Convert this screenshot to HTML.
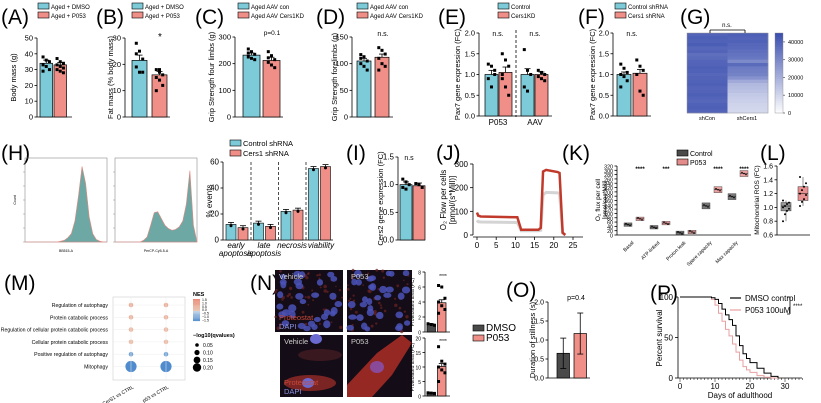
<!DOCTYPE html>
<html><head><meta charset="utf-8">
<style>
html,body{margin:0;padding:0;background:#fff;}
svg{display:block;font-family:"Liberation Sans",sans-serif;}
</style></head>
<body>
<svg id="fig" width="821" height="403" viewBox="0 0 821 403" xmlns="http://www.w3.org/2000/svg"></svg>
<script>
// ---------------- DATA ----------------
const catsA=["Aged + DMSO","Aged + P053"]; const valsA=[34,33]; const errA=[2,1.5];
const ptsA=[[38,36,35,33,32,30,29],[37,35,34,33,32,31,30,29,28]];
const ticksA=[0,10,20,30,40,50];
const valsB=[21.5,16]; const errB=[2,1.3];
const ptsB=[[28,25,22,19,17,17,24],[18,17,16,15,14,12,10,18]];
const ticksB=[0,10,20,30];
const catsC=["Aged AAV con","Aged AAV Cers1KD"]; const valsC=[232,212]; const errC=[8,12];
const ptsC=[[255,245,235,225,220,215,240],[245,230,215,205,195,185,222]];
const ticksC=[0,100,200,300];
const valsD=[105,112]; const errD=[5,6];
const ptsD=[[117,113,105,100,95,88,110],[130,125,118,110,100,95,88]];
const ticksD=[0,50,100,150];
const valsE=[1.0,1.05,1.0,1.0]; const errE=[0.1,0.13,0.14,0.06];
const ptsE=[[1.25,1.2,1.0,0.9,0.7,1.1],[1.5,1.35,1.2,1.0,0.7,0.5,0.9],[1.6,1.1,1.0,0.7,0.6],[1.1,1.05,1.0,0.95,0.9,0.85]];
const ticksE=[0,0.5,1.0,1.5,2.0];
const valsF=[1.0,1.03]; const errF=[0.06,0.09];
const ptsF=[[1.25,1.15,1.05,1.0,0.95,0.85,0.7],[1.35,1.2,1.1,1.0,0.6,0.5]];
const conHeat=[40000,41000,40500,41500,39000,40000,37000,38000,39500,40000,41000,40500,39000,40000,40500,41000,39500,40000,41000,40000,39000,40500,41000,40000];
const cersHeat=[41000,40000,40500,39000,38500,37000,36000,35000,30000,38000,34000,33000,32000,28000,22000,18000,17000,16000,14000,13000,12000,11000,10500,10000];
const heatTicks=[0,10000,20000,30000,40000];
const hist1=[0,0,0,0,0,0,0,0,0,0,0.01,0.02,0.05,0.1,0.25,0.55,0.9,0.7,0.3,0.1,0.03,0.01,0,0];
const hist2=[0,0,0,0,0,0,0,0,0.02,0.06,0.2,0.35,0.36,0.28,0.2,0.16,0.14,0.15,0.18,0.25,0.45,0.85,0.2,0];
const catsH=["early apoptosis","late apoptosis","necrosis","viability"];
const ctrlH=[12,13,22,55]; const cersH=[9.5,10.5,23,56.5];
const ticksH=[0,20,40,60];
const valsI=[1.0,0.98]; const errI=[0.05,0.05];
const ptsI=[[1.1,1.05,1.0,0.95,0.92],[1.02,1.0,0.95]];
const ticksI=[0,0.5,1.0,1.5];
const tJ=[0,0.3,1,10.5,11.5,16,16.6,17.2,18,21,21.5,22.3,23];
const redJ=[95,82,78,75,22,22,30,268,275,266,262,10,0];
const grayJ=[62,56,55,53,18,18,20,170,180,178,176,8,0];
const ticksJx=[0,5,10,15,20,25]; const ticksJy=[0,100,200,300];
const catsK=["Basal","ATP-linked","Proton leak","Spare capacity","Max capacity"];
const ctrlK=[48,36,10,135,178]; const p053K=[75,55,14,210,285];
const sigK=["****","***","","****","****"];
const ticksK=[0,20,40,60,80,100,120,140,160,180,200,220,240,260,280,300,320];
const boxL=[[0.8,0.95,1.02,1.07,1.1],[1.02,1.1,1.2,1.3,1.44]];
const ptsL=[[0.8,0.9,0.95,0.98,1.0,1.02,1.05,1.07,1.1],[1.02,1.08,1.12,1.18,1.2,1.25,1.3,1.35,1.44]];
const ticksL=[0.6,0.8,1.0,1.2,1.4,1.6];
const termsM=["Regulation of autophagy","Protein catabolic process","Regulation of cellular protein catabolic process","Cellular protein catabolic process","Positive regulation of autophagy","Mitophagy"];
const colsM=["shCerS1 vs CTRL","p53 vs CTRL"];
const nes1=[0.6,0.5,0.4,0.3,-1.0,-1.5]; const nes2=[0.6,0.5,0.4,0.3,-1.0,-1.5];
const q1=[0.05,0.05,0.05,0.05,0.05,0.2]; const q2=[0.05,0.05,0.05,0.05,0.05,0.2];
const valsN1=[1.0,3.9]; const errN1=[0.1,0.4]; const ptsN1=[[1.1,1.0,0.9],[6.2,6.0,4.5,4.0,3.5,3.0,2.5]];
const valsN2=[1.0,10.2]; const errN2=[0.15,1.0]; const ptsN2=[[1.1,1.0,0.9],[17,12,11,10,9,8,5]];
const valsO=[0.65,1.17]; const errO=[0.4,0.54];
const ticksO=[0,0.5,1.0,1.5,2.0];
const daysP=[0,8,9,10,11,12,13,14,15,16,17,18,19,20,22,24,26,28];
const dmsoP=[100,100,99,97,92,85,78,72,65,52,40,30,24,19,12,6,2,0];
const p053P=[100,100,97,90,80,70,60,52,42,32,22,14,10,7,3,1,0,0];
const ticksPx=[0,10,20,30]; const ticksPy=[0,50,100];

// ---------------- HELPERS ----------------
const NS="http://www.w3.org/2000/svg";
const svg=document.getElementById('fig');
const BLUE="#7dcad9", PINK="#ef8f88", DARK="#4a4a4a";
function mk(tag,attrs,name){
  const e=document.createElementNS(NS,tag);
  for(const k in attrs)e.setAttribute(k,attrs[k]);
  
  
  svg.appendChild(e);return e;
}
function txt(x,y,s,size,anchor,name,rot,extra){
  const a={x:x,y:y,'font-size':size,'text-anchor':anchor||'start',fill:'#000'};
  if(rot)a.transform=`rotate(${rot} ${x} ${y})`;
  if(extra)for(const k in extra)a[k]=extra[k];
  const e=mk('text',a,name);e.textContent=s;return e;
}
function line(x1,y1,x2,y2,name,st,w,dash){
  const a={x1,y1,x2,y2,stroke:st||'#000','stroke-width':w||0.8};
  if(dash)a['stroke-dasharray']=dash;
  return mk('line',a,name);
}
function label(x,y,s){txt(x,y,s,21,'start','panel-label-'+s.replace(/[()]/g,'').toLowerCase(),0,{'font-weight':'300'});}
function legendBox(x,y,color,s,fs){
  mk('rect',{x:x,y:y,width:11,height:6,fill:color,stroke:'#000','stroke-width':0.6},'legend-swatch');
  txt(x+13,y+6,s,fs||6,'start','legend-label');
}
function yAxis(ax,y0,y1,min,max,ticks,fs,fmt){
  const ys=v=>y0-(v-min)/(max-min)*(y0-y1);
  line(ax,y1,ax,y0,'y-axis');
  ticks.forEach(t=>{line(ax-2.5,ys(t),ax,ys(t),'y-tick');txt(ax-4,ys(t)+2.5,fmt?fmt(t):String(t),fs||7.5,'end','y-tick-label');});
  return ys;
}
function bars(o){
  const ys=yAxis(o.ax,o.y0,o.y1,0,o.max,o.ticks,o.fs,o.fmt);
  line(o.ax,o.y0,o.xEnd,o.y0,'x-axis');
  o.vals.forEach((v,i)=>{
    const x=o.bx+i*o.bw+(o.gap&&i>=2?o.gap:0);
    mk('rect',{x:x,y:ys(v),width:o.w,height:o.y0-ys(v),fill:o.colors[i%o.colors.length],stroke:'#000','stroke-width':0.7},'bar-'+i);
    if(o.err){const c=x+o.w/2;line(c,ys(v+o.err[i]),c,ys(Math.max(0,v-(o.errBoth?o.err[i]:0))),'error-bar',null,0.8);line(c-3,ys(v+o.err[i]),c+3,ys(v+o.err[i]),'error-cap');
      if(o.errBoth)line(c-3,ys(v-o.err[i]),c+3,ys(v-o.err[i]),'error-cap');}
    if(o.pts&&o.pts[i])o.pts[i].forEach((p,j)=>{
      mk('rect',{x:x+o.w/2-1.5+((j%3)-1)*3.2,y:ys(p)-1.5,width:3,height:3,fill:'#000'},'data-point');
    });
  });
  if(o.title)txt(o.tx,(o.y0+o.y1)/2,o.title,o.tfs||7.5,'middle','y-axis-title',-90);
  return ys;
}

// ---------------- PANEL A ----------------
label(1,24,"(A)");
legendBox(38,3,BLUE,catsA[0]);legendBox(38,12,PINK,catsA[1]);
bars({ax:37,y0:117,y1:38,max:50,ticks:ticksA,xEnd:72,vals:valsA,err:errA,pts:ptsA,bx:40,bw:14,w:12.5,colors:[BLUE,PINK],title:"Body mass (g)",tx:16});
// ---------------- PANEL B ----------------
label(96,24,"(B)");
legendBox(132,3,BLUE,catsA[0]);legendBox(132,12,PINK,catsA[1]);
bars({ax:125,y0:117,y1:38,max:30,ticks:ticksB,xEnd:170,vals:valsB,err:errB,pts:ptsB,bx:132,bw:20,w:15,colors:[BLUE,PINK],title:"Fat mass (% body mass)",tx:113});
txt(160,40,"*",10,'middle','significance-star');
// ---------------- PANEL C ----------------
label(195,24,"(C)");
legendBox(238,3,BLUE,catsC[0]);legendBox(238,12,PINK,catsC[1]);
bars({ax:235,y0:117,y1:37,max:300,ticks:ticksC,xEnd:283,vals:valsC,err:errC,pts:ptsC,bx:243,bw:20,w:17,colors:[BLUE,PINK],title:"Grip Strength four limbs (g)",tx:214});
txt(272,35,"p=0.1",6.5,'middle','p-value');
// ---------------- PANEL D ----------------
label(316,24,"(D)");
legendBox(357,3,BLUE,catsC[0]);legendBox(357,12,PINK,catsC[1]);
bars({ax:352,y0:117,y1:37,max:150,ticks:ticksD,xEnd:393,vals:valsD,err:errD,pts:ptsD,bx:357,bw:18,w:14,colors:[BLUE,PINK],title:"Grip Strength forelimbs (g)",tx:337});
txt(383,36,"n.s.",7,'middle','ns-label');
// ---------------- PANEL E ----------------
label(438,24,"(E)");
legendBox(498,3,BLUE,"Control");legendBox(498,12,PINK,"Cers1KD");
bars({ax:479,y0:116,y1:33,max:2,ticks:ticksE,fmt:t=>t.toFixed(1),xEnd:552,vals:valsE,err:errE,pts:ptsE,bx:485,bw:14,gap:8,w:13,colors:[BLUE,PINK],title:"Pax7 gene expression (FC)",tx:460});
line(516,30,516,117,'group-divider','#000',0.8,'3,2');
txt(498,36,"n.s.",7,'middle','ns-label');txt(535,36,"n.s.",7,'middle','ns-label');
txt(498,125,"P053",8,'middle','x-label');txt(535,125,"AAV",8,'middle','x-label');
// ---------------- PANEL F ----------------
label(578,24,"(F)");
legendBox(615,3,BLUE,"Control shRNA");legendBox(615,12,PINK,"Cers1 shRNA");
bars({ax:613,y0:116,y1:33,max:2,ticks:ticksE,fmt:t=>t.toFixed(1),xEnd:651,vals:valsF,err:errF,pts:ptsF,bx:617,bw:16,w:14,colors:[BLUE,PINK],title:"Pax7 gene expression (FC)",tx:595});
txt(632,36,"n.s.",7,'middle','ns-label');
// ---------------- PANEL G ----------------
label(680,24,"(G)");
(function(){
  const x0=687,x1=768,y0=33,y1=113,n=conHeat.length,rh=(y1-y0)/n,cw=(x1-x0)/2;
  const col=v=>{const t=v/45000;const r=Math.round(255-(255-60)*t),g=Math.round(255-(255-80)*t),b=Math.round(255-(255-175)*t);return `rgb(${r},${g},${b})`;};
  [conHeat,cersHeat].forEach((arr,c)=>arr.forEach((v,i)=>{
    mk('rect',{x:x0+c*cw,y:y0+i*rh,width:cw+0.3,height:rh+0.3,fill:col(v)},'heatmap-cell');
  }));
  mk('rect',{x:x0,y:y0,width:x1-x0,height:y1-y0,fill:'none',stroke:'#999','stroke-width':0.5},'heatmap-border');
  txt(707,120,"shCon",5.5,'middle','x-label');txt(747,120,"shCers1",5.5,'middle','x-label');
  line(710,30,745,30,'bracket');line(710,30,710,33,'bracket');line(745,30,745,33,'bracket');
  txt(727,27,"n.s.",6,'middle','ns-label');
  const cb0=113,cb1=33;
  for(let i=0;i<40;i++){mk('rect',{x:775,y:cb1+i*2,width:8,height:2.2,fill:col(45000*(1-i/40))},'colorbar-segment');}
  mk('rect',{x:775,y:cb1,width:8,height:80,fill:'none',stroke:'#888','stroke-width':0.4},'colorbar-border');
  heatTicks.forEach(t=>{const y=cb0-t/45000*80;line(783,y,785,y,'colorbar-tick','#666');txt(788,y+2,String(t),5.5,'start','colorbar-label');});
})();
// ---------------- PANEL H ----------------
label(1,160,"(H)");
function hist(x0,x1,y0,y1,arr,name,xl){
  mk('rect',{x:x0,y:y0,width:x1-x0,height:y1-y0,fill:'none',stroke:'#777','stroke-width':0.5},name+'-frame');
  const n=arr.length,dx=(x1-x0)/(n-1);
  let d=`M${x0},${y1}`;arr.forEach((v,i)=>{d+=` L${x0+i*dx},${y1-v*(y1-y0)}`;});d+=` L${x1},${y1} Z`;
  mk('path',{d:d,fill:'#5d9e9b',stroke:'#e9897e','stroke-width':0.6,'fill-opacity':0.9},name+'-histogram');
  for(let i=0;i<6;i++){line(x0-2,y1-i*(y1-y0)/6,x0,y1-i*(y1-y0)/6,'hist-tick','#777',0.4);}
  txt((x0+x1)/2,y1+10,xl,3.5,'middle','hist-x-title');
}
hist(25,107,158,242,hist1,'hist-bv510',"BB515-A");
hist(115,197,158,242,hist2,'hist-percp',"PerCP-Cy5-5-A");
txt(16,200,"Count",3.5,'middle','hist-y-title',-90);
legendBox(230,140,BLUE,"Control shRNA",7.5);legendBox(230,150,PINK,"Cers1 shRNA",7.5);
(function(){
  const ys=yAxis(223,240,162,0,60,ticksH,8);
  line(223,240,333,240,'x-axis');
  catsH.forEach((c,i)=>{
    const gx=226+i*27.5;
    [[ctrlH,BLUE],[cersH,PINK]].forEach(([arr,cl],k)=>{
      const x=gx+k*12,v=arr[i];
      mk('rect',{x:x,y:ys(v),width:10,height:240-ys(v),fill:cl,stroke:'#000','stroke-width':0.6},'bar-'+c.replace(/ /g,'-')+(k?'-cers1':'-control'));
      line(x+5,ys(v+1.5),x+5,ys(v),'error-bar');line(x+2,ys(v+1.5),x+8,ys(v+1.5),'error-cap');
      mk('circle',{cx:x+5,cy:ys(v-1),r:1.5,fill:'#000'},'data-point');
    });
    if(i>0)line(gx-2.5,162,gx-2.5,240,'group-divider','#000',0.7,'3,2');
  });
  txt(236,248,"early",8,'middle','x-label',0,{'font-style':'italic'});
  txt(236,256,"apoptosis",8,'middle','x-label',0,{'font-style':'italic'});
  txt(264,248,"late",8,'middle','x-label',0,{'font-style':'italic'});
  txt(264,256,"apoptosis",8,'middle','x-label',0,{'font-style':'italic'});
  txt(292,248,"necrosis",8,'middle','x-label',0,{'font-style':'italic'});
  txt(321,248,"viability",8,'middle','x-label',0,{'font-style':'italic'});
  txt(212,201,"% events",8,'middle','y-axis-title',-90);
})();
// ---------------- PANEL I ----------------
label(346,160,"(I)");
bars({ax:398,y0:240,y1:157,max:1.5,ticks:ticksI,fmt:t=>t.toFixed(1),xEnd:425,vals:valsI,err:errI,pts:ptsI,bx:400,bw:13,w:12,colors:[BLUE,PINK],title:"Cers2 gene expression (FC)",tx:383,fs:8});
txt(409,160,"n.s",7,'middle','ns-label');
// ---------------- PANEL J ----------------
label(436,160,"(J)");
(function(){
  const xs=t=>477+t*3.84, ys=v=>235-v/300*71;
  line(473,164,473,235,'y-axis');line(473,237,583,237,'x-axis');
  ticksJy.forEach(t=>{line(470,ys(t),473,ys(t),'y-tick');txt(468,ys(t)+3,String(t),8,'end','y-tick-label');});
  ticksJx.forEach(t=>{line(xs(t),237,xs(t),240,'x-tick');txt(xs(t),248,String(t),8,'middle','x-tick-label');});
  const pts=(arr)=>arr.map((v,i)=>`${xs(tJ[i])},${ys(v)}`).join(' ');
  mk('polyline',{points:pts(grayJ),fill:'none',stroke:'#d4d4d4','stroke-width':3},'line-control');
  mk('polyline',{points:pts(redJ),fill:'none',stroke:'#c0392b','stroke-width':2.5},'line-p053');
  txt(446,200,"O₂ Flow per cells",8,'middle','y-axis-title',-90);
  txt(455,200,"[pmol/(s*Mill)]",8,'middle','y-axis-title',-90);
})();
// ---------------- PANEL K ----------------
label(562,160,"(K)");
legendBox(677,150,DARK,"Control",7);legendBox(677,159,'#e48b8b',"P053",7);
(function(){
  const ys=yAxis(617,235,166,0,320,ticksK,5.3);
  line(617,235,751,235,'x-axis');
  catsK.forEach((c,i)=>{
    const cx=634+i*26;
    [[ctrlK,'#777',-6],[p053K,'#e9a0a0',6]].forEach(([arr,cl,off])=>{
      const v=arr[i],h=v>100?6:3.5;
      mk('rect',{x:cx+off-4,y:ys(v)-h/2,width:8,height:h,fill:cl,stroke:'#333','stroke-width':0.4},'box-'+c.replace(/ /g,'-'));
      line(cx+off-4,ys(v),cx+off+4,ys(v),'box-median','#222',0.5);
      for(let j=0;j<3;j++)mk('circle',{cx:cx+off-2+j*2,cy:ys(v)+(j-1)*1,r:0.8,fill:'#000'},'data-point');
    });
    if(sigK[i])txt(cx+6,171,sigK[i],6,'middle','significance-star',0,{'font-weight':'bold'});
    txt(cx,243,c,5,'end','x-tick-label',-45);
  });
  txt(600,200,"O₂ flux per cell",6.5,'middle','y-axis-title',-90);
  txt(607,200,"[pmol/sec*Mill]",6,'middle','y-axis-title',-90);
})();
// ---------------- PANEL L ----------------
label(760,160,"(L)");
(function(){
  const ys=yAxis(777,235,166,0.6,1.6,ticksL,7,t=>t.toFixed(1));
  line(777,235,810,235,'x-axis');
  boxL.forEach((b,i)=>{
    const cx=786+i*17,cl=i?'#e89090':'#999';
    line(cx,ys(b[0]),cx,ys(b[4]),'whisker','#222',0.5);
    mk('rect',{x:cx-5,y:ys(b[3]),width:10,height:ys(b[1])-ys(b[3]),fill:cl,stroke:'#333','stroke-width':0.5},'box-'+(i?'p053':'control'));
    line(cx-5,ys(b[2]),cx+5,ys(b[2]),'box-median','#222',0.6);
    ptsL[i].forEach((p,j)=>mk('circle',{cx:cx-3+(j%4)*2,cy:ys(p),r:1,fill:'#000'},'data-point'));
  });
  txt(759,200,"Mitochondrial ROS (FC)",6.5,'middle','y-axis-title',-90);
})();
// ---------------- PANEL M ----------------
label(4,290,"(M)");
(function(){
  mk('rect',{x:113,y:297,width:72,height:83,fill:'#fff',stroke:'#ccc','stroke-width':0.6},'dotplot-frame');
  const cx=[131,166],ry=i=>305+i*12.3;
  const nesCol=v=>v>=0?`rgb(${235},${Math.round(200-v*40)},${Math.round(180-v*40)})`:`rgb(${Math.round(200+v*80)},${Math.round(215+v*50)},${Math.round(235+v*20)})`;
  termsM.forEach((t,i)=>{
    line(113,ry(i),185,ry(i),'grid-line','#eee',0.5);
    txt(108,ry(i)+2,t,5.2,'end','term-label');
    [[nes1,q1],[nes2,q2]].forEach(([n,q],c)=>{
      mk('circle',{cx:cx[c],cy:ry(i),r:1.2+q[i]*22,fill:nesCol(n[i])},'dot-'+c+'-'+i);
    });
  });
  cx.forEach(x=>line(x,297,x,380,'grid-line','#eee',0.5));
  colsM.forEach((c,k)=>txt(cx[k]+3,388,c,5,'end','x-tick-label',-30));
  txt(193,296,"NES",5.5,'start','legend-title',0,{'font-weight':'bold'});
  for(let i=0;i<20;i++){const v=1.5-i*0.15;mk('rect',{x:193,y:299+i*1.1,width:7,height:1.2,fill:nesCol(v)},'colorbar-segment');}
  ["1.5","1.0","0.5","0.0","−0.5","−1.0","−1.5"].forEach((s,i)=>txt(202,301+i*3.4,s,3.5,'start','colorbar-label'));
  txt(193,337,"−log10(qvalues)",5.5,'start','legend-title',0,{'font-weight':'bold'});
  ["0.05","0.10","0.15","0.20"].forEach((s,i)=>{mk('circle',{cx:197,cy:345+i*7.5,r:1.8+i*0.8,fill:'#000'},'size-legend-dot');txt(203,347+i*7.5,s,5,'start','size-legend-label');});
})();
// ---------------- PANEL N ----------------
label(250,290,"(N)");
(function(){
  let seed=7;const rnd=()=>{seed=(seed*9301+49297)%233280;return seed/233280;};
  const imgs=[[275,270,68,62,'Vehicle',true],[347,270,65,62,'P053',true],[280,335,63,62,'Vehicle',false],[347,335,65,62,'P053',false]];
  imgs.forEach(([x,y,w,h,lab,many],k)=>{
    mk('rect',{x:x,y:y,width:w,height:h,fill:'#140c16'},'micrograph-'+k);
    if(many){
      for(let i=0;i<50;i++)mk('circle',{cx:x+rnd()*w,cy:y+rnd()*h,r:0.8+rnd()*1,fill:'#6a2424','fill-opacity':0.7},'proteostat-speck');
      for(let i=0;i<32;i++)mk('ellipse',{cx:x+3+rnd()*(w-6),cy:y+3+rnd()*(h-6),rx:2.8+rnd()*1.5,ry:2.5+rnd()*1.5,fill:'#4a54b8','fill-opacity':0.85},'nucleus');
    }else if(k===2){
      mk('ellipse',{cx:x+30,cy:y+48,rx:26,ry:8,fill:'#7a2424'},'cell-body');
      mk('ellipse',{cx:x+40,cy:y+20,rx:22,ry:6,fill:'#3a1820'},'cell-body');
      mk('ellipse',{cx:x+28,cy:y+48,rx:6,ry:5,fill:'#6a6ad0'},'nucleus');
      mk('ellipse',{cx:x+36,cy:y+4,rx:6,ry:5,fill:'#6a6ad0'},'nucleus');
    }else{
      mk('path',{d:`M${x},${y+50} L${x+30},${y+18} L${x+55},${y} L${x+65},${y+8} L${x+45},${y+40} L${x+25},${y+62} L${x},${y+62} Z`,fill:'#962824'},'cell-body');
      mk('ellipse',{cx:x+30,cy:y+32,rx:7,ry:6,fill:'#8a4a9a'},'nucleus');
    }
    txt(x+4,y+9,lab,7.5,'start','image-label',0,{fill:'#ccc'});
    if(x<300){txt(x+4,y+h-12,"Proteostat",7.5,'start','stain-label',0,{fill:'#c84a3a'});txt(x+4,y+h-3,"DAPI",7.5,'start','stain-label',0,{fill:'#8890e0'});}
  });
})();
bars({ax:425,y0:332,y1:272,max:8,ticks:[0,2,4,6,8],xEnd:450,vals:valsN1,err:errN1,pts:ptsN1,bx:427,bw:10.5,w:8.5,colors:[DARK,PINK],title:"Proteolated area (FC)",tx:414,fs:5,tfs:5});
txt(443,278,"****",5,'middle','significance-star');
bars({ax:425,y0:396,y1:338,max:20,ticks:[0,5,10,15,20],xEnd:450,vals:valsN2,err:errN2,pts:ptsN2,bx:427,bw:10.5,w:8.5,colors:[DARK,PINK],title:"Proteolated area (FC)",tx:414,fs:5,tfs:5});
txt(443,343,"****",5,'middle','significance-star');
legendBox(473,325,DARK,"DMSO",10);legendBox(473,335,PINK,"P053",10);
// ---------------- PANEL O ----------------
label(506,297,"(O)");
bars({ax:548,y0:378,y1:302,max:2,ticks:ticksO,fmt:t=>t.toFixed(1),xEnd:590,vals:valsO,err:errO,errBoth:true,bx:557,bw:17,w:12.5,colors:[DARK,PINK],title:"Duration of stillness (s)",tx:535,fs:7});
txt(576,300,"p=0.4",7,'middle','p-value');
// ---------------- PANEL P ----------------
label(650,300,"(P)");
(function(){
  const xs=d=>680+d*3.5, ys=v=>378-v/100*81;
  line(678,297,678,378,'y-axis');line(678,378,802,378,'x-axis');
  ticksPy.forEach(t=>{line(675,ys(t),678,ys(t),'y-tick');txt(673,ys(t)+3,String(t),8,'end','y-tick-label');});
  for(let d=0;d<=35;d++)line(xs(d),378,xs(d),d%10===0?382:380,'x-tick','#000',0.5);
  ticksPx.forEach(t=>txt(xs(t),389,String(t),8,'middle','x-tick-label'));
  const step=arr=>{let d='';arr.forEach((v,i)=>{d+=(i?` L${xs(daysP[i])},${ys(arr[i-1])} L`:'M')+`${xs(daysP[i])},${ys(v)}`;});return d;};
  mk('path',{d:step(p053P),fill:'none',stroke:'#e8a0a0','stroke-width':1},'survival-p053');
  mk('path',{d:step(dmsoP),fill:'none',stroke:'#000','stroke-width':1},'survival-dmso');
  line(730,298,741,298,'legend-line-dmso','#000',1.2);txt(745,301,"DMSO control",8,'start','legend-label');
  line(730,310,741,310,'legend-line-p053','#e8a0a0',1.2);txt(745,313,"P053 100uM",8,'start','legend-label');
  line(790,297,790,314,'bracket');line(787,297,790,297,'bracket');line(787,314,790,314,'bracket');
  txt(793,308,"****",6,'start','significance-star');
  txt(740,398,"Days of adulthood",8,'middle','x-axis-title');
  txt(662,338,"Percent survival",8,'middle','y-axis-title',-90);
})();
</script>
</body></html>
